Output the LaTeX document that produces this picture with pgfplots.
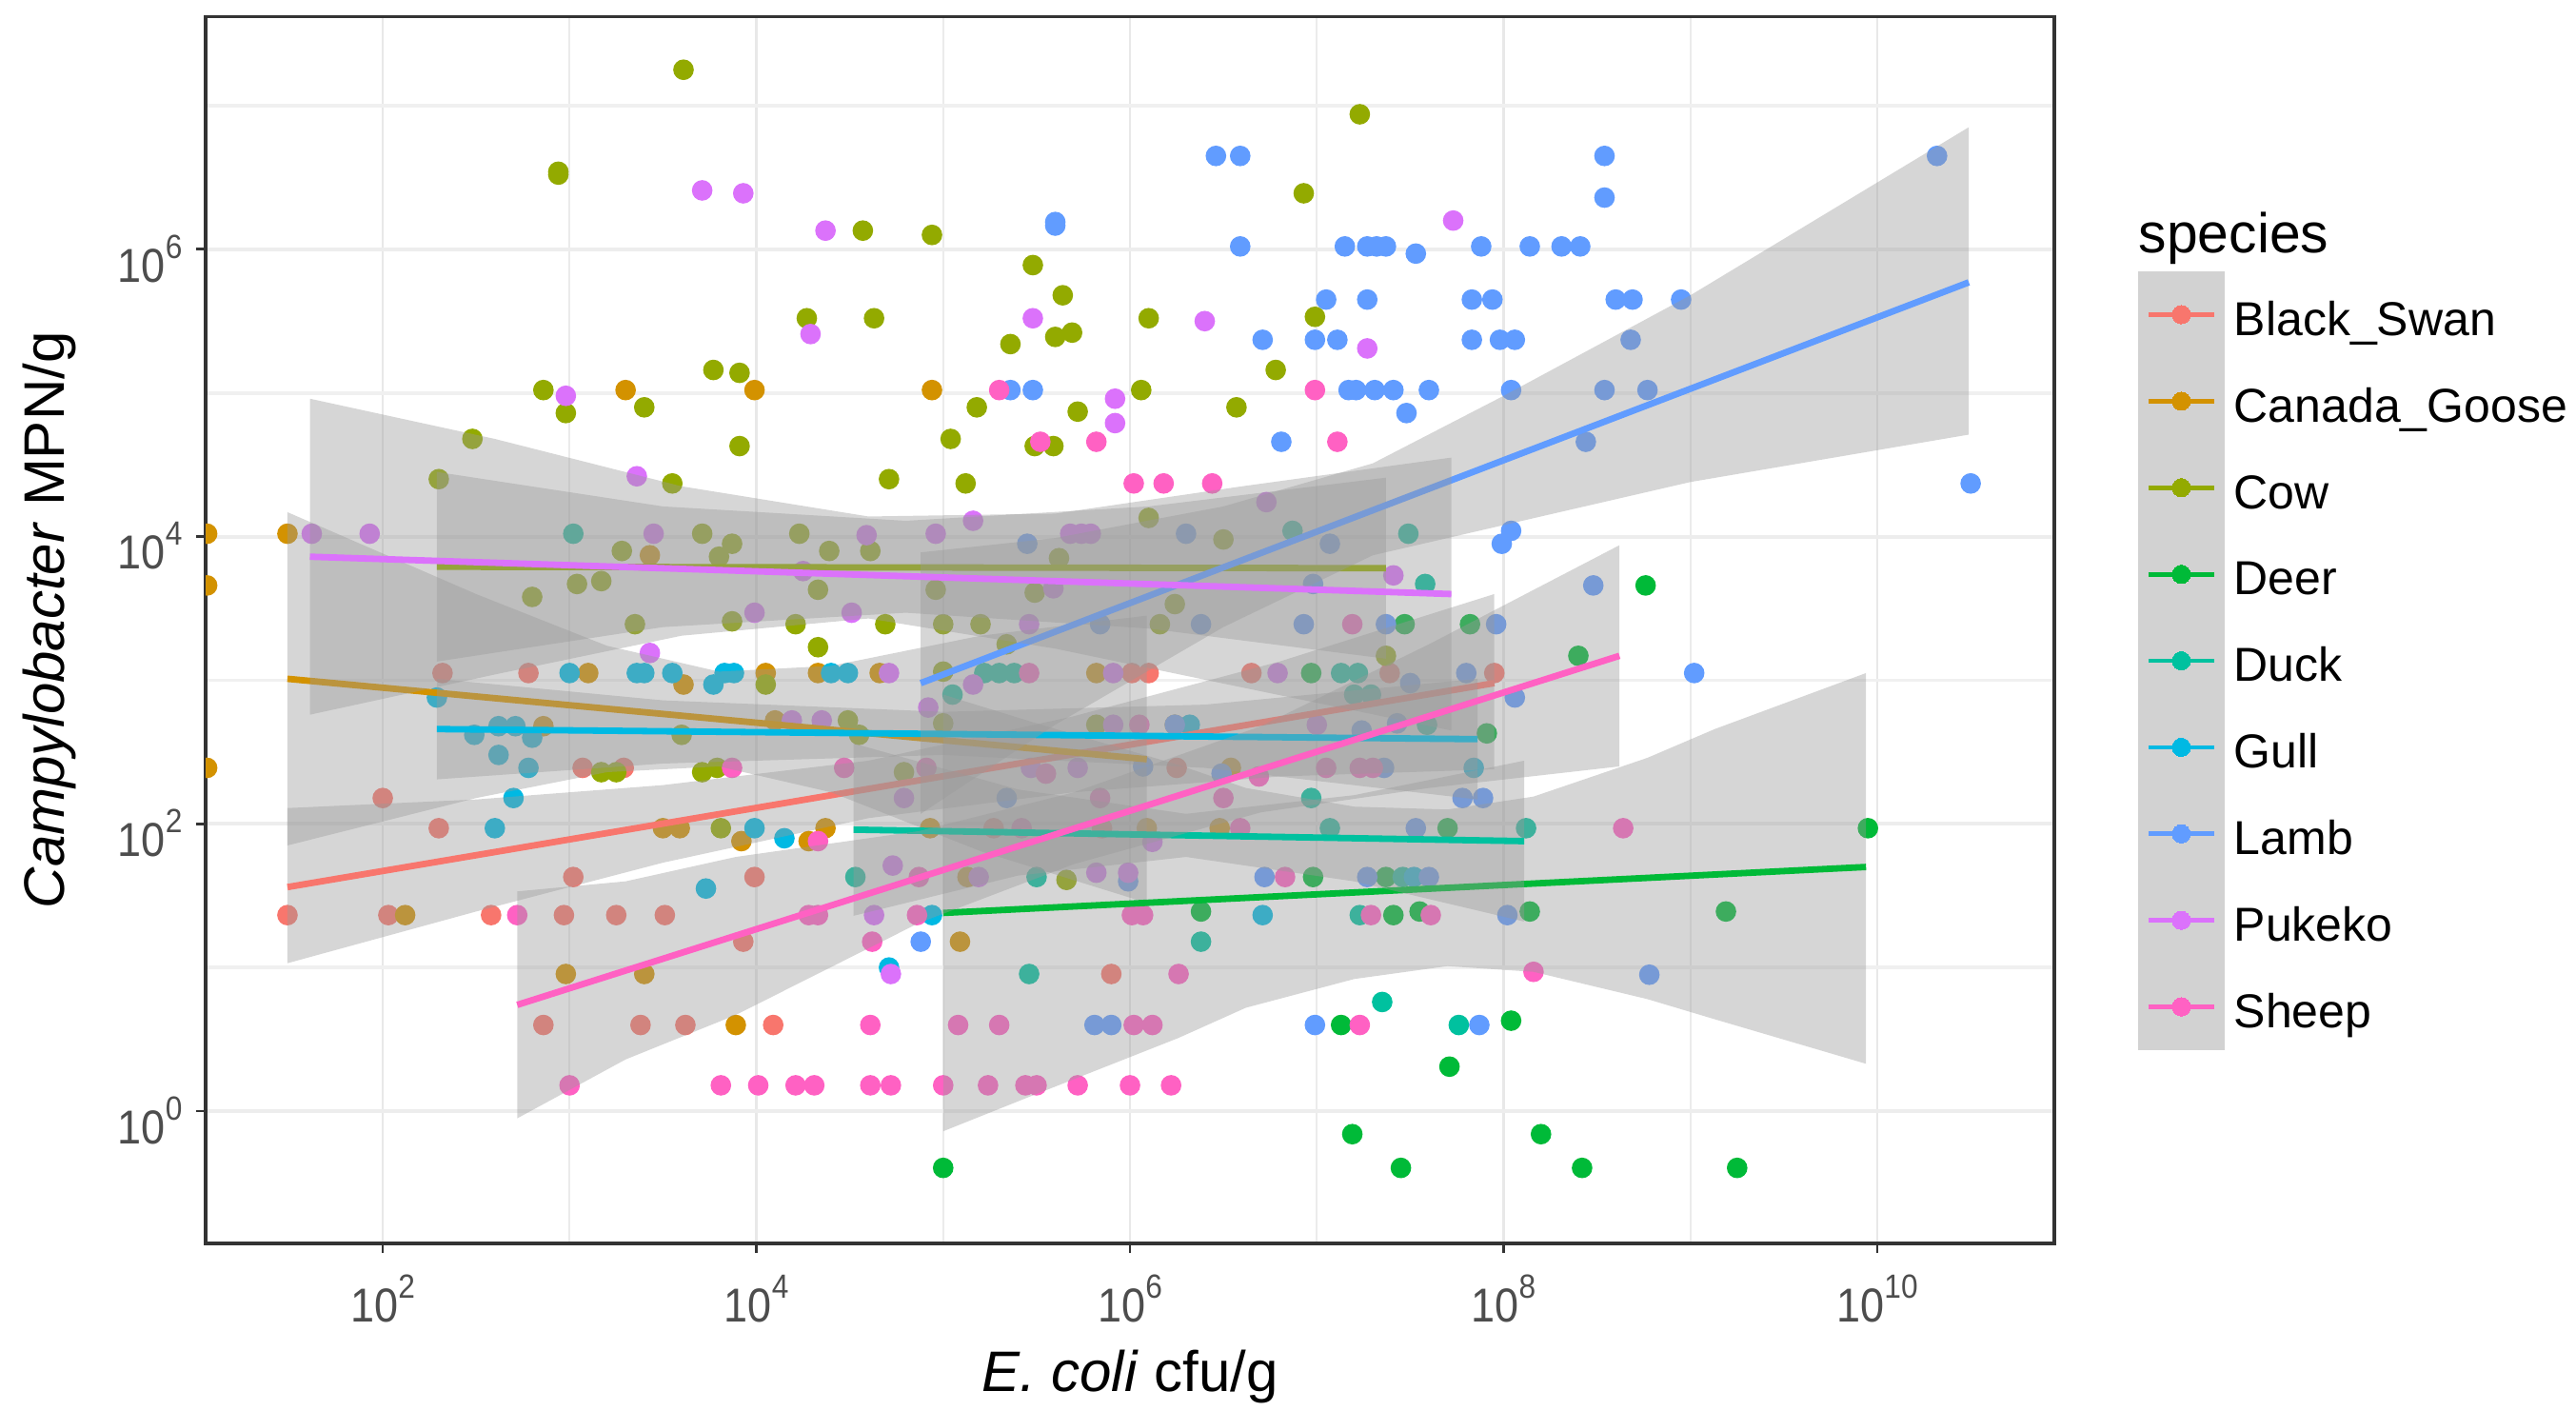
\documentclass[border=0pt]{standalone}
\usepackage{fontspec}
\setmainfont{Liberation Sans}
\usepackage{graphicx}
\usepackage{pgfplots}
\usepackage{pgfplotstable}
\pgfplotsset{compat=1.18}
\definecolor{cSwan}{HTML}{F8766D}
\definecolor{cGoose}{HTML}{D39200}
\definecolor{cCow}{HTML}{93AA00}
\definecolor{cDeer}{HTML}{00BA38}
\definecolor{cDuck}{HTML}{00C19F}
\definecolor{cGull}{HTML}{00B9E3}
\definecolor{cLamb}{HTML}{619CFF}
\definecolor{cPukeko}{HTML}{DB72FB}
\definecolor{cSheep}{HTML}{FF61C3}
\definecolor{rib}{HTML}{999999}
\definecolor{keygray}{HTML}{D2D2D2}
\definecolor{axgray}{HTML}{333333}
\definecolor{ticktext}{HTML}{4D4D4D}
\newcommand\pw[1]{\scalebox{0.9}[1]{10\raisebox{0.5em}{\fontsize{8.8}{9}\selectfont #1}}}
\newcommand\lt[1]{\hspace*{2.6pt}\raisebox{-1.7pt}[9pt][3pt]{#1}}
\newcommand\lgk[1]{\fill[keygray,line width=0pt] (0pt,-11.36pt) rectangle (22.5pt,11.36pt);
  \draw[#1,line width=1.2pt] (2.6pt,0pt)--(19.9pt,0pt);
  \fill[#1,line width=0pt] (11.25pt,0pt) circle (2.4pt);}
\pgfplotsset{table/lg/.style={x expr={10^(\thisrow{lx})},y expr={10^(\thisrow{ly})}},
  pts/.style={only marks,mark=*,mark size=2.5pt,color=#1,mark options={draw=none,fill=#1},legend image code/.code={\lgk{#1}}},
  band/.style={fill=rib,fill opacity=0.4,draw=none,forget plot},
  fit/.style={color=#1,line width=1.7pt,no marks,forget plot}}

% values are log10(E. coli), log10(Campylobacter)
\pgfplotstableread[row sep=\\]{lx ly\\
2.32 3.05\\2.78 3.05\\6.01 3.05\\6.10 3.05\\6.65 3.05\\7.39 3.05\\7.95 3.05\\3.07 2.39\\3.29 2.39\\6.25 2.39\\2.0 2.18\\2.30 1.97\\5.27 1.97\\5.85 1.97\\3.02 1.63\\3.99 1.63\\1.49 1.365\\2.03 1.365\\2.58 1.365\\2.97 1.365\\3.25 1.365\\3.51 1.365\\3.93 1.18\\5.90 0.955\\2.86 0.6\\3.38 0.6\\3.62 0.6\\4.09 0.6\\
}\swanpts
\pgfplotstableread[row sep=\\]{lx ly\\
1.06 4.02\\1.49 4.02\\1.06 3.66\\1.06 2.39\\3.30 5.02\\3.99 5.02\\4.94 5.02\\3.43 3.87\\3.10 3.05\\3.61 2.97\\4.05 3.05\\4.33 3.05\\4.66 3.05\\5.82 3.05\\2.86 2.68\\4.10 2.72\\6.24 2.69\\6.54 2.39\\3.50 1.97\\3.59 1.97\\4.37 1.97\\3.92 1.88\\4.28 1.88\\4.93 1.97\\6.09 1.97\\6.48 1.97\\5.13 1.63\\2.12 1.365\\5.09 1.18\\2.98 0.955\\3.40 0.955\\3.89 0.6\\
}\goosepts
\pgfplotstableread[row sep=\\]{lx ly\\
3.61 7.25\\2.94 6.54\\2.94 6.52\\4.57 6.13\\4.94 6.10\\5.48 5.89\\5.64 5.68\\4.27 5.52\\4.63 5.52\\6.10 5.52\\5.36 5.34\\5.60 5.39\\5.69 5.42\\3.77 5.16\\3.91 5.14\\2.86 5.02\\2.98 4.86\\3.40 4.90\\6.06 5.02\\5.18 4.90\\5.72 4.87\\5.49 4.63\\5.59 4.63\\2.48 4.68\\3.91 4.63\\5.04 4.68\\2.30 4.40\\3.55 4.37\\4.71 4.40\\5.12 4.37\\6.10 4.13\\3.71 4.02\\4.23 4.02\\3.87 3.95\\3.28 3.90\\3.80 3.86\\4.39 3.90\\4.61 3.90\\5.62 3.85\\3.04 3.67\\3.17 3.69\\2.80 3.58\\4.33 3.63\\4.96 3.63\\5.49 3.61\\6.24 3.53\\3.87 3.41\\3.35 3.39\\4.21 3.39\\4.69 3.39\\5.0 3.39\\5.20 3.39\\6.16 3.39\\4.33 3.23\\5.34 3.25\\7.37 3.17\\5.0 3.06\\4.05 2.97\\5.0 2.70\\5.82 2.69\\3.60 2.62\\4.55 2.62\\4.49 2.72\\3.17 2.36\\3.25 2.36\\3.71 2.36\\3.79 2.39\\4.79 2.36\\3.81 1.97\\5.66 1.61\\6.50 3.98\\6.99 5.53\\6.93 6.39\\7.23 6.94\\6.78 5.16\\6.57 4.90\\
}\cowpts
\pgfplotstableread[row sep=\\]{lx ly\\
5.0 -0.395\\7.45 -0.395\\8.42 -0.395\\9.25 -0.395\\7.19 -0.16\\8.20 -0.16\\7.71 0.31\\8.04 0.63\\7.13 0.6\\6.38 1.39\\7.55 1.39\\8.14 1.39\\9.19 1.39\\7.41 1.365\\6.98 1.63\\7.37 1.63\\7.70 1.97\\9.95 1.97\\6.97 3.05\\7.91 2.63\\8.40 3.17\\7.47 3.39\\7.82 3.39\\8.76 3.66\\
}\deerpts
\pgfplotstableread[row sep=\\]{lx ly\\
3.02 4.02\\5.22 3.05\\5.30 3.05\\5.38 3.05\\5.05 2.90\\4.53 1.63\\5.50 1.63\\5.46 0.955\\6.38 1.18\\7.35 0.76\\7.76 0.6\\7.23 1.365\\7.07 1.97\\8.12 1.97\\6.97 2.18\\7.13 3.05\\7.22 3.05\\7.20 2.90\\7.29 2.90\\7.59 2.69\\6.87 4.04\\7.49 4.02\\7.58 3.67\\7.46 1.63\\
}\duckpts
\pgfplotstableread[row sep=\\]{lx ly\\
3.0 3.05\\3.36 3.05\\3.40 3.05\\3.55 3.05\\3.77 2.97\\3.83 3.05\\3.88 3.05\\4.40 3.05\\4.49 3.05\\2.29 2.88\\2.62 2.68\\2.71 2.68\\2.49 2.62\\2.80 2.60\\2.62 2.48\\2.78 2.39\\2.70 2.18\\2.60 1.97\\3.99 1.97\\4.15 1.90\\3.73 1.55\\4.94 1.365\\4.71 1.0\\6.71 1.365\\6.32 2.69\\7.84 2.39\\7.52 1.63\\
}\gullpts
\pgfplotstableread[row sep=\\]{lx ly\\
5.60 6.165\\5.60 6.19\\6.46 6.65\\6.59 6.65\\8.54 6.65\\8.54 6.36\\10.32 6.65\\6.59 6.02\\7.15 6.02\\7.27 6.02\\7.32 6.02\\7.37 6.02\\7.53 5.97\\7.88 6.02\\8.14 6.02\\8.31 6.02\\8.41 6.02\\7.05 5.65\\7.27 5.65\\7.83 5.65\\7.94 5.65\\8.60 5.65\\8.69 5.65\\8.95 5.65\\6.71 5.37\\6.99 5.37\\7.11 5.37\\7.83 5.37\\7.98 5.37\\8.06 5.37\\8.68 5.37\\5.36 5.02\\5.48 5.02\\7.17 5.02\\7.21 5.02\\7.31 5.02\\7.41 5.02\\7.60 5.02\\8.04 5.02\\8.54 5.02\\8.77 5.02\\7.48 4.86\\6.81 4.66\\8.44 4.66\\10.50 4.37\\5.45 3.95\\6.30 4.02\\7.07 3.95\\8.04 4.04\\7.99 3.95\\8.48 3.66\\6.98 3.67\\5.84 3.39\\6.38 3.39\\6.93 3.39\\7.37 3.39\\7.96 3.39\\7.50 2.98\\8.06 2.88\\9.02 3.05\\7.80 3.05\\6.24 2.69\\7.24 2.65\\7.43 2.70\\6.07 2.40\\6.49 2.35\\7.36 2.39\\5.34 2.18\\7.78 2.18\\7.89 2.18\\7.53 1.97\\5.99 1.6\\6.72 1.63\\7.27 1.63\\7.60 1.63\\4.88 1.18\\8.02 1.365\\8.78 0.95\\5.81 0.6\\5.90 0.6\\6.99 0.6\\7.87 0.6\\
}\lambpts
\pgfplotstableread[row sep=\\]{lx ly\\
3.71 6.41\\3.93 6.39\\4.37 6.13\\4.29 5.41\\5.48 5.52\\7.73 6.20\\6.40 5.50\\7.27 5.31\\2.98 4.98\\5.92 4.96\\5.92 4.79\\3.36 4.42\\5.16 4.11\\6.73 4.24\\1.62 4.02\\1.93 4.02\\3.45 4.02\\4.59 4.01\\4.96 4.02\\5.68 4.02\\5.74 4.02\\5.79 4.02\\4.25 3.76\\5.59 3.64\\3.99 3.47\\4.51 3.47\\5.46 3.39\\3.43 3.19\\4.71 3.05\\5.91 3.05\\6.79 3.05\\4.92 2.81\\5.16 2.97\\4.19 2.72\\4.35 2.72\\5.91 2.69\\7.0 2.69\\5.47 2.39\\5.72 2.39\\4.79 2.18\\4.73 1.71\\5.19 1.63\\5.82 1.66\\5.99 1.66\\4.63 1.365\\4.72 0.955\\6.12 1.875\\7.41 3.73\\
}\pukekopts
\pgfplotstableread[row sep=\\]{lx ly\\
5.30 5.02\\5.82 4.66\\5.52 4.66\\6.02 4.37\\6.18 4.37\\6.44 4.37\\6.99 5.02\\7.11 4.66\\5.46 3.05\\3.87 2.39\\4.47 2.39\\4.91 2.39\\5.55 2.35\\6.05 2.69\\7.19 3.39\\6.69 2.33\\7.05 2.39\\7.23 2.39\\7.30 2.39\\5.84 2.18\\6.50 2.18\\4.33 1.88\\5.42 1.97\\6.59 1.97\\8.64 1.97\\4.87 1.63\\6.83 1.63\\4.28 1.365\\4.33 1.365\\2.72 1.365\\4.86 1.365\\6.01 1.365\\6.07 1.365\\7.29 1.365\\7.61 1.365\\4.62 1.18\\6.26 0.955\\8.16 0.97\\4.61 0.6\\5.08 0.6\\5.30 0.6\\6.02 0.6\\6.12 0.6\\7.23 0.6\\3.0 0.18\\3.81 0.18\\4.01 0.18\\4.21 0.18\\4.31 0.18\\4.61 0.18\\4.72 0.18\\5.0 0.18\\5.24 0.18\\5.44 0.18\\5.50 0.18\\5.72 0.18\\6.0 0.18\\6.22 0.18\\
}\sheeppts

\begin{document}
\begin{tikzpicture}
\path[use as bounding box] (0pt,0pt) rectangle (676.5pt,370.25pt);
\begin{axis}[
  at={(54pt,43.75pt)},anchor=south west,scale only axis,
  width=485.5pt,height=322.15pt,
  xmode=log,ymode=log,
  xmin=11.27,xmax=8.87e10,ymin=0.120,ymax=4.17e7,
  clip marker paths=true,
  xtick={1e2,1e4,1e6,1e8,1e10},
  xticklabels={\pw{2},\pw{4},\pw{6},\pw{8},\pw{10}},
  ytick={1,1e2,1e4,1e6},
  yticklabels={\pw{0},\pw{2},\pw{4},\pw{6}},
  minor xtick={1e3,1e5,1e7,1e9},
  minor ytick={10,1e3,1e5,1e7},
  minor tick length=0pt,
  major tick length=2.6pt,
  tick style={color=axgray,line width=0.7pt},
  tick align=outside,
  xtick pos=bottom,ytick pos=left,
  grid=both,
  x grid style={color=black!9,line width=0.6pt},
  y grid style={color=black!7,line width=1pt},
  minor x grid style={color=black!8,line width=0.5pt},
  minor y grid style={color=black!6,line width=0.9pt},
  axis line style={color=axgray,line width=0.9pt},
  ticklabel style={font=\fontsize{12.5}{14}\selectfont,text=ticktext},
  xticklabel style={yshift=-2.2pt},
  yticklabel style={yshift=-2.5pt},
  xlabel={\textit{E. coli} cfu/g},
  ylabel={\textit{Campylobacter} MPN/g},
  label style={font=\fontsize{15}{18}\selectfont},
  xlabel style={at={(axis description cs:0.5,-0.109)},anchor=center},
  ylabel style={at={(axis description cs:-0.0845,0.508)},anchor=center},
  legend style={at={(1.0455,0.7923)},anchor=north west,draw=none,fill=none,
    inner sep=0pt,outer sep=0pt,row sep=0pt,
    font=\fontsize{12.5}{15}\selectfont,
    nodes={inner sep=0pt,outer sep=0pt}},
  legend cell align=left,
]
% points
\addplot[pts=cSwan] table[lg]{\swanpts};
\addlegendentry{\lt{Black\_Swan}}
\addplot[pts=cGoose] table[lg]{\goosepts};
\addlegendentry{\lt{Canada\_Goose}}
\addplot[pts=cCow] table[lg]{\cowpts};
\addlegendentry{\lt{Cow}}
\addplot[pts=cDeer] table[lg]{\deerpts};
\addlegendentry{\lt{Deer}}
\addplot[pts=cDuck] table[lg]{\duckpts};
\addlegendentry{\lt{Duck}}
\addplot[pts=cGull] table[lg]{\gullpts};
\addlegendentry{\lt{Gull}}
\addplot[pts=cLamb] table[lg]{\lambpts};
\addlegendentry{\lt{Lamb}}
\addplot[pts=cPukeko] table[lg]{\pukekopts};
\addlegendentry{\lt{Pukeko}}
\addplot[pts=cSheep] table[lg]{\sheeppts};
\addlegendentry{\lt{Sheep}}
% bands and fitted lines, species by species
\addplot[band] table[lg,row sep=\\]{lx ly\\1.49 2.11\\2.5 2.17\\3.5 2.27\\4.6 2.44\\5.7 2.75\\6.8 3.13\\7.95 3.6\\7.95 2.38\\6.8 2.33\\5.7 2.22\\4.6 2.04\\3.5 1.73\\2.5 1.39\\1.49 1.03\\};
\addplot[fit=cSwan] table[lg,row sep=\\]{lx ly\\1.49 1.56\\7.95 2.98\\};
\addplot[band] table[lg,row sep=\\]{lx ly\\1.49 4.17\\2.5 3.60\\3.2 3.24\\3.8 3.06\\4.4 3.10\\5.2 3.31\\6.09 3.45\\6.09 1.45\\5.2 1.81\\4.4 2.22\\3.8 2.40\\3.2 2.36\\2.5 2.18\\1.49 1.85\\};
\addplot[fit=cGoose] table[lg,row sep=\\]{lx ly\\1.49 3.01\\6.09 2.45\\};
\addplot[band] table[lg,row sep=\\]{lx ly\\2.29 4.45\\3.5 4.21\\4.8 4.11\\6.1 4.21\\7.37 4.41\\7.37 3.15\\6.1 3.36\\4.8 3.47\\3.5 3.37\\2.29 3.13\\};
\addplot[fit=cCow] table[lg,row sep=\\]{lx ly\\2.29 3.79\\7.37 3.78\\};
\addplot[band] table[lg,row sep=\\]{lx ly\\5.0 2.90\\5.5 2.70\\6.26 2.41\\6.62 2.25\\7.2 2.12\\7.7 2.10\\8.16 2.19\\8.77 2.46\\9.13 2.66\\9.94 3.05\\9.94 0.33\\9.13 0.64\\8.77 0.78\\8.16 0.97\\7.7 1.01\\7.2 0.92\\6.62 0.72\\6.26 0.51\\5.5 0.12\\5.0 -0.14\\};
\addplot[fit=cDeer] table[lg,row sep=\\]{lx ly\\5.0 1.38\\9.94 1.70\\};
\addplot[band] table[lg,row sep=\\]{lx ly\\4.52 2.56\\5.4 2.24\\6.3 2.07\\7.2 2.20\\8.11 2.44\\8.11 1.32\\7.2 1.60\\6.3 1.77\\5.4 1.64\\4.52 1.36\\};
\addplot[fit=cDuck] table[lg,row sep=\\]{lx ly\\4.52 1.96\\8.11 1.88\\};
\addplot[band] table[lg,row sep=\\]{lx ly\\2.29 3.01\\3.5 2.86\\5.0 2.78\\6.4 2.83\\7.86 3.01\\7.86 2.17\\6.4 2.39\\5.0 2.48\\3.5 2.42\\2.29 2.31\\};
\addplot[fit=cGull] table[lg,row sep=\\]{lx ly\\2.29 2.66\\7.86 2.59\\};
\addplot[band] table[lg,row sep=\\]{lx ly\\4.88 3.89\\5.6 3.99\\6.5 4.21\\7.3 4.51\\8.0 4.98\\9.0 5.68\\10.49 6.85\\10.49 4.71\\9.0 4.38\\8.0 4.08\\7.3 3.87\\6.5 3.37\\5.6 2.69\\4.88 2.07\\};
\addplot[fit=cLamb] table[lg,row sep=\\]{lx ly\\4.88 2.98\\10.49 5.77\\};
\addplot[band] table[lg,row sep=\\]{lx ly\\1.61 4.96\\2.6 4.68\\3.6 4.35\\4.6 4.14\\5.6 4.16\\6.6 4.35\\7.72 4.55\\7.72 2.65\\6.6 2.95\\5.6 3.22\\4.6 3.43\\3.6 3.31\\2.6 3.04\\1.61 2.76\\};
\addplot[fit=cPukeko] table[lg,row sep=\\]{lx ly\\1.61 3.86\\7.72 3.60\\};
\addplot[band] table[lg,row sep=\\]{lx ly\\2.72 1.53\\3.3 1.60\\3.89 1.77\\4.87 1.95\\5.7 2.22\\6.7 2.68\\7.6 3.25\\8.62 3.94\\8.62 2.40\\7.6 2.25\\6.7 2.08\\5.7 1.72\\4.87 1.31\\3.89 0.67\\3.3 0.36\\2.72 -0.05\\};
\addplot[fit=cSheep] table[lg,row sep=\\]{lx ly\\2.72 0.74\\8.62 3.17\\};
\end{axis}
\node[anchor=west,inner sep=0pt,font=\fontsize{14.7}{17}\selectfont] at (561.5pt,307.7pt) {species};
\end{tikzpicture}
\end{document}
